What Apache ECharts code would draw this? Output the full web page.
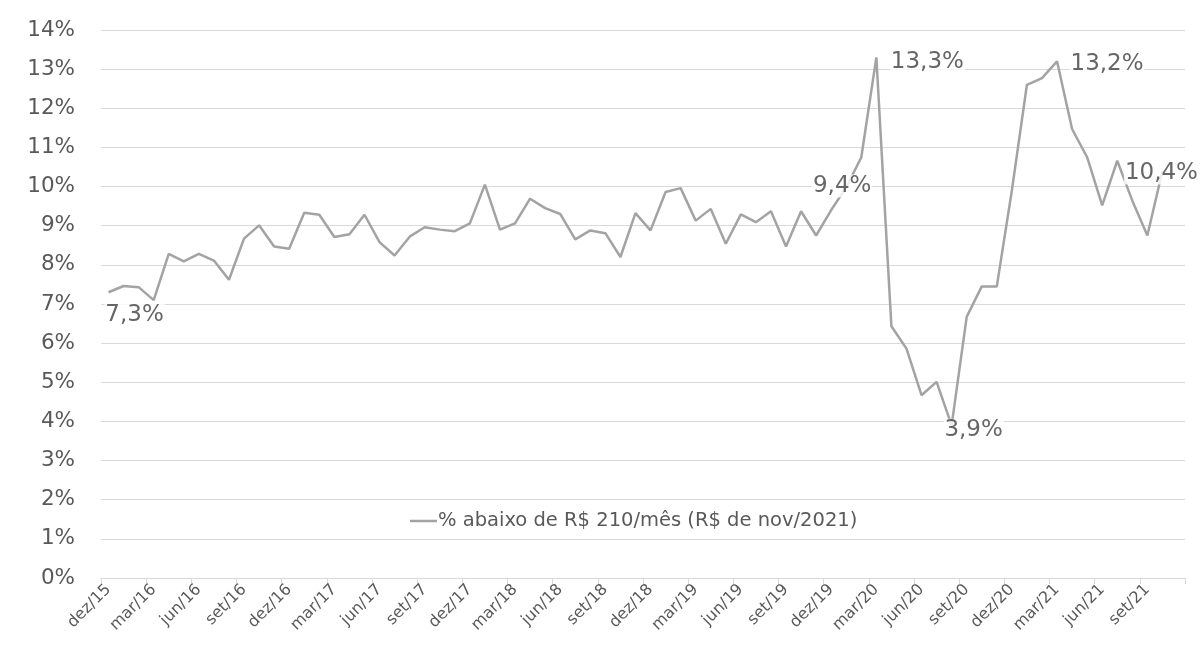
<!DOCTYPE html>
<html>
<head>
<meta charset="utf-8">
<script src="https://cdn.jsdelivr.net/npm/echarts@6/dist/echarts.min.js"></script>
<style>html,body{margin:0;padding:0;background:#fff;}#c{width:1203px;height:649px;}</style>
</head>
<body>
<div id="c"></div>
<script>
const categories = [
  'dez/15',
  'jan/16','fev/16','mar/16','abr/16','mai/16','jun/16','jul/16','ago/16','set/16','out/16','nov/16','dez/16',
  'jan/17','fev/17','mar/17','abr/17','mai/17','jun/17','jul/17','ago/17','set/17','out/17','nov/17','dez/17',
  'jan/18','fev/18','mar/18','abr/18','mai/18','jun/18','jul/18','ago/18','set/18','out/18','nov/18','dez/18',
  'jan/19','fev/19','mar/19','abr/19','mai/19','jun/19','jul/19','ago/19','set/19','out/19','nov/19','dez/19',
  'jan/20','fev/20','mar/20','abr/20','mai/20','jun/20','jul/20','ago/20','set/20','out/20','nov/20','dez/20',
  'jan/21','fev/21','mar/21','abr/21','mai/21','jun/21','jul/21','ago/21','set/21','out/21','nov/21'
];
const values = [
  7.3,
  7.46, 7.43, 7.1, 8.28, 8.09, 8.28, 8.11, 7.62, 8.67, 9.01, 8.47, 8.41,
  9.33, 9.28, 8.71, 8.78, 9.28, 8.58, 8.24, 8.72, 8.96, 8.90, 8.86, 9.06,
  10.05, 8.90, 9.06, 9.69, 9.45, 9.30, 8.65, 8.88, 8.81, 8.20, 9.32, 8.88,
  9.86, 9.96, 9.13, 9.43, 8.54, 9.29, 9.09, 9.37, 8.47, 9.37, 8.75, 9.4,
  9.98, 10.75, 13.3, 6.43, 5.86, 4.67, 5.01, 3.9, 6.67, 7.45, 7.45, 9.9,
  12.6, 12.77, 13.2, 11.47, 10.75, 9.52, 10.66, 9.64, 8.75, 10.4, null
];
const labeledIdx = [0, 48, 51, 56, 63, 70];
const yTicks = [0,1,2,3,4,5,6,7,8,9,10,11,12,13,14];
const seriesName = '% abaixo de R$ 210/mês (R$ de nov/2021)';

const labelOffsets = {0:[26,23], 48:[11,-24], 51:[51,5], 56:[22,5], 63:[50,3], 70:[-1,2]};
const fmt = v => v.toFixed(1).replace('.', ',') + '%';

const labelData = labeledIdx.map(i => ({
  value: [i, values[i]],
  label: {
    show: true, position: 'inside', offset: labelOffsets[i],
    formatter: () => fmt(values[i]),
    fontFamily: 'DejaVu Sans', fontSize: 23, color: '#404040',
    backgroundColor: '#ffffff', padding: [0, 1]
  }
}));

const chart = echarts.init(document.getElementById('c'));
chart.setOption({
  animation: false,
  grid: {left: 101, right: 18, top: 30, bottom: 71, containLabel: false},
  legend: {
    data: [{name: seriesName, icon: 'rect'}],
    left: 405, top: 506,
    itemWidth: 27, itemHeight: 2.5, itemGap: 10,
    textStyle: {fontFamily: 'DejaVu Sans', fontSize: 19.5, color: '#595959', padding: [0,0,0,-4]}
  },
  xAxis: {
    type: 'category', data: categories, boundaryGap: true,
    axisLine: {lineStyle: {color: '#d9d9d9', width: 1}},
    axisTick: {show: true, interval: 2, length: 6, lineStyle: {color: '#d9d9d9'}},
    axisLabel: {interval: 2, rotate: 45, margin: 9, fontFamily: 'DejaVu Sans', fontSize: 16, color: '#595959'},
    splitLine: {show: false}
  },
  yAxis: {
    type: 'value', min: yTicks[0], max: yTicks[yTicks.length-1], interval: 1,
    axisLine: {show: false}, axisTick: {show: false},
    axisLabel: {formatter: '{value}%', margin: 26, fontFamily: 'DejaVu Sans', fontSize: 21.5, color: '#595959'},
    splitLine: {lineStyle: {color: '#d9d9d9', width: 1}}
  },
  series: [
    {
      name: seriesName, type: 'line', data: values,
      showSymbol: false, symbol: 'none',
      lineStyle: {color: '#a3a3a3', width: 2.5},
      itemStyle: {color: '#a3a3a3'},
      z: 2
    },
    {
      name: 'labels', type: 'scatter', data: labelData,
      symbolSize: 1, itemStyle: {color: 'rgba(0,0,0,0)'},
      silent: true, z: 5
    }
  ]
});
</script>
</body>
</html>
